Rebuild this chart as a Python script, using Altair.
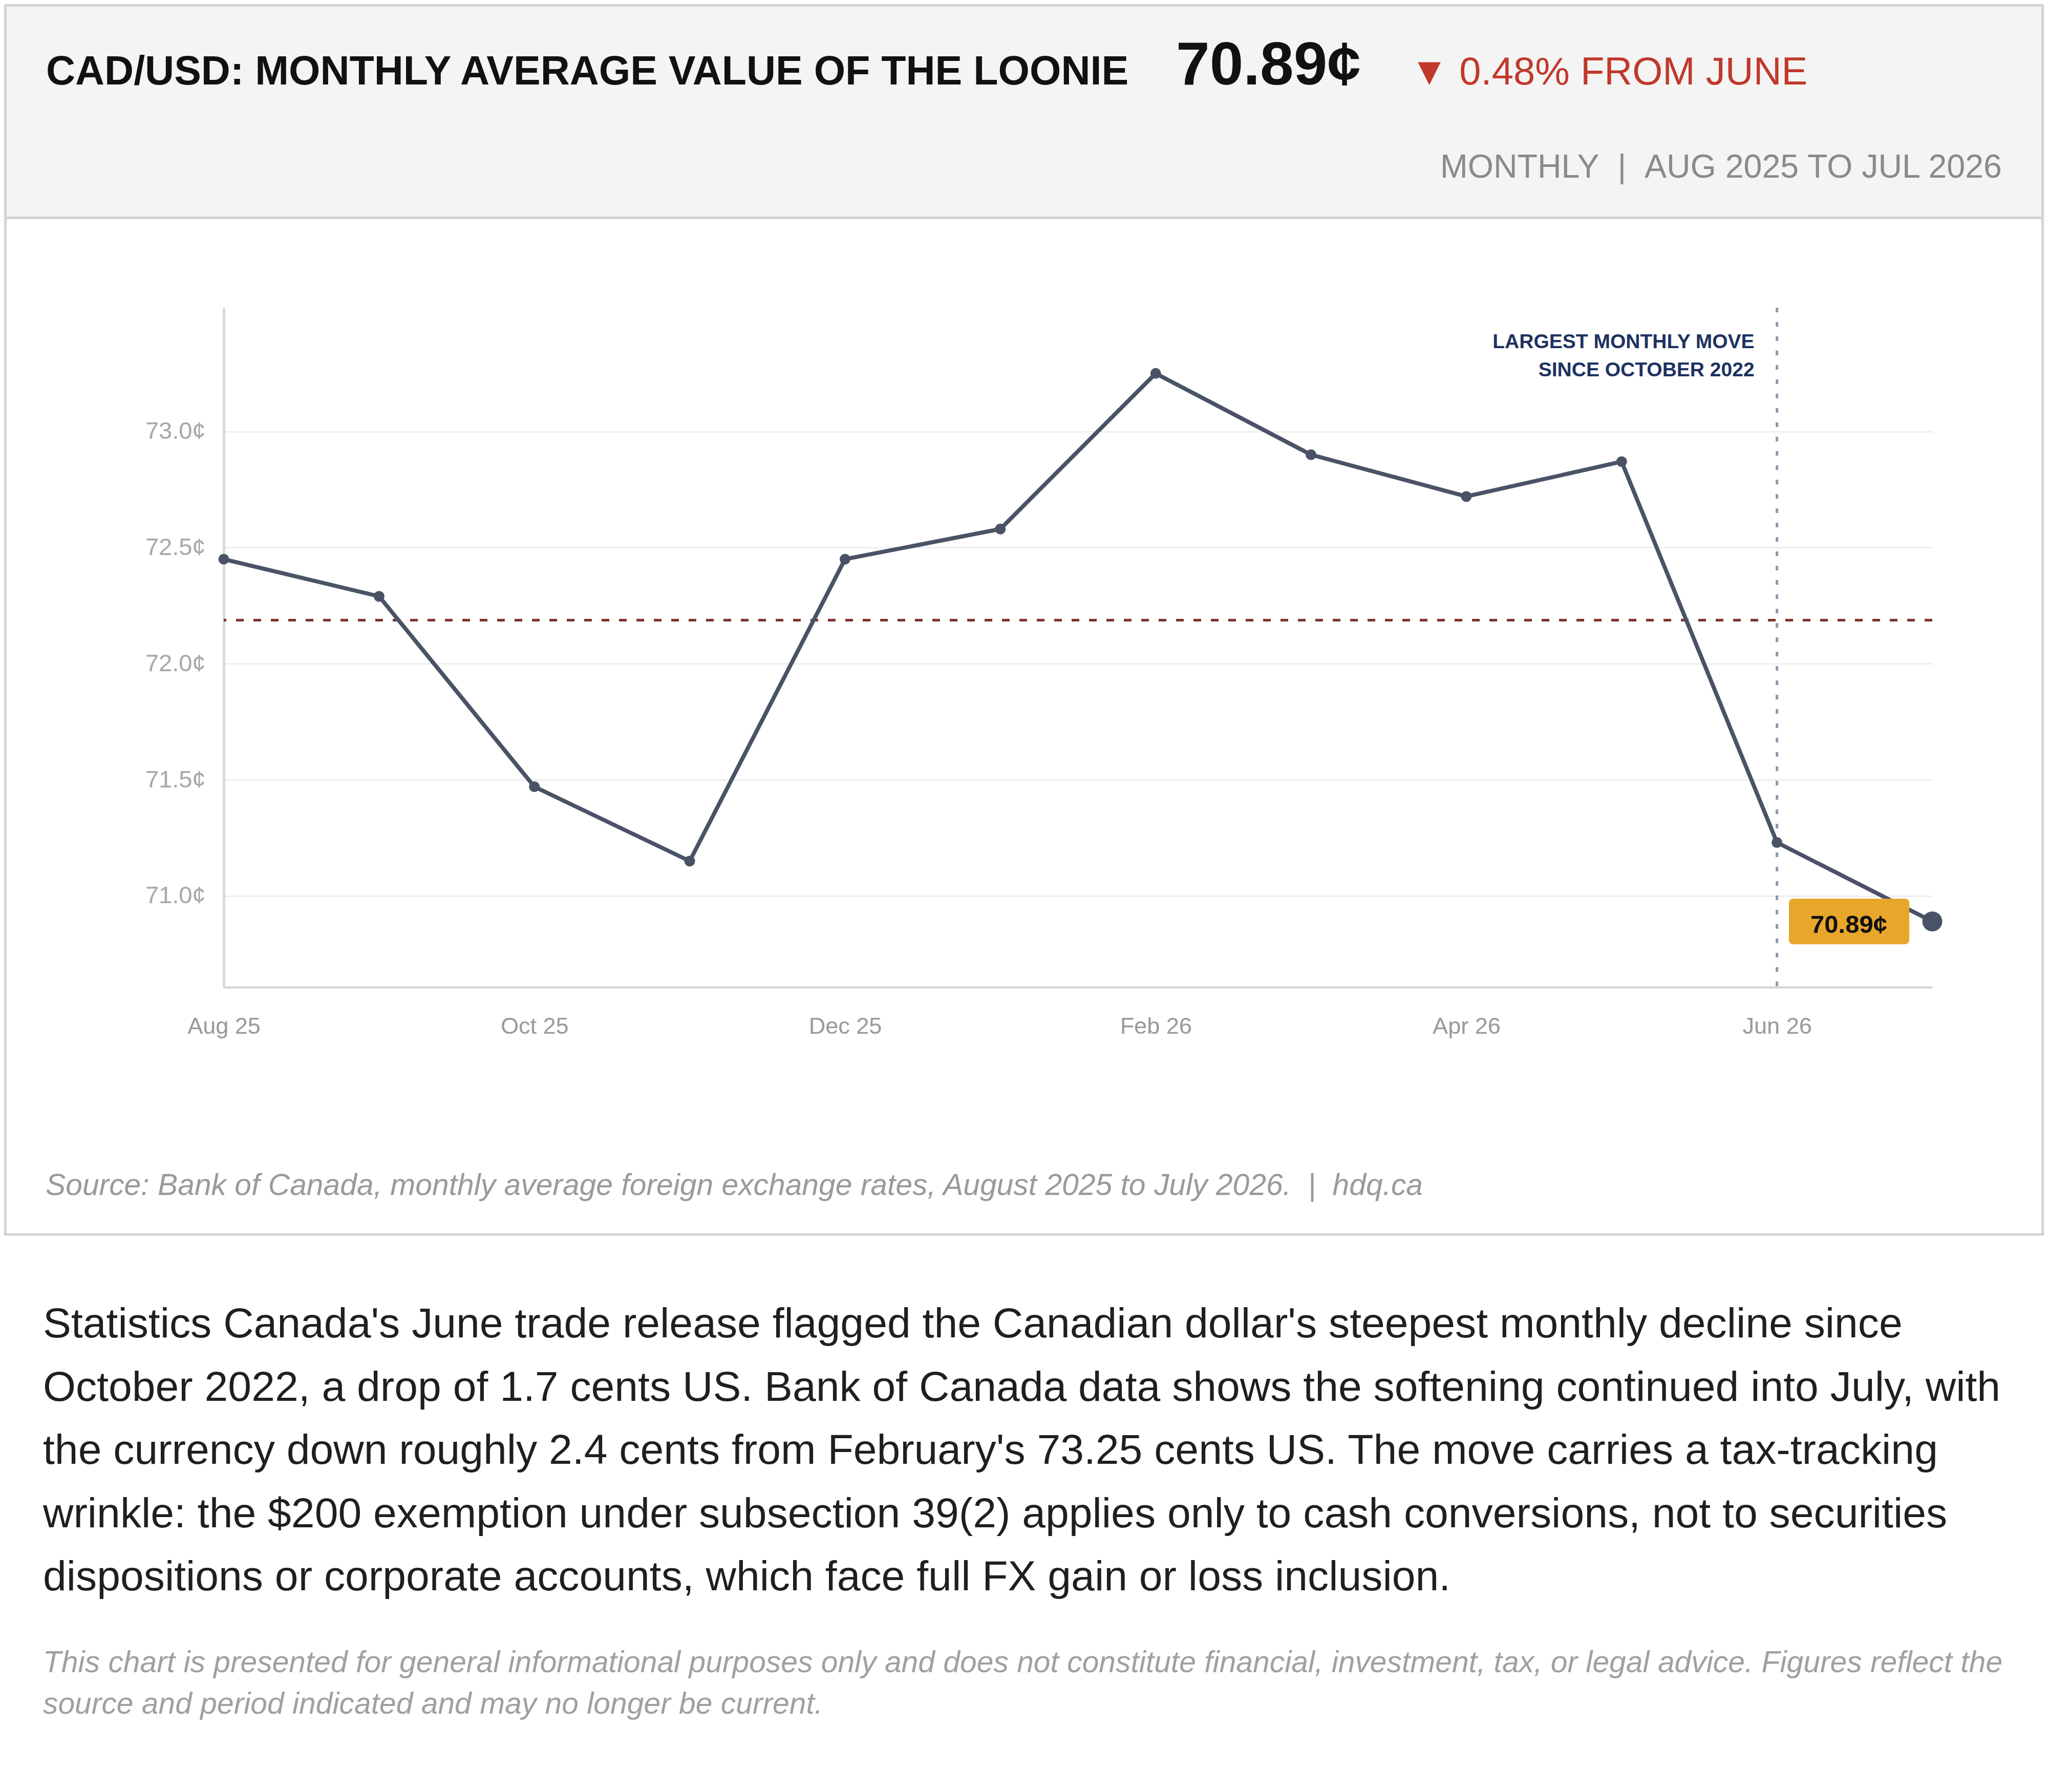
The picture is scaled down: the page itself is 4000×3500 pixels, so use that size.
import json
import altair as alt
import pandas as pd

# ---------------- data ----------------
MONTHS = ["Aug 25", "Sep 25", "Oct 25", "Nov 25", "Dec 25", "Jan 26",
          "Feb 26", "Mar 26", "Apr 26", "May 26", "Jun 26", "Jul 26"]
VALUES = [72.45, 72.29, 71.47, 71.15, 72.45, 72.58,
          73.25, 72.90, 72.72, 72.87, 71.23, 70.89]
Y_TICKS = [71.0, 71.5, 72.0, 72.5, 73.0]
X_TICK_LABELS = ["Aug 25", "Oct 25", "Dec 25", "Feb 26", "Apr 26", "Jun 26"]
HIGHLIGHT_MONTH = "Jun 26"
LATEST_LABEL = "70.89¢"

TITLE = "CAD/USD: MONTHLY AVERAGE VALUE OF THE LOONIE"
HEADLINE_VALUE = "70.89¢"
CHANGE_TEXT = "▼ 0.48% FROM JUNE"
SUBTITLE = "MONTHLY\u00a0\u00a0|\u00a0\u00a0AUG 2025 TO JUL 2026"
ANNOTATION_LINES = ["LARGEST MONTHLY MOVE", "SINCE OCTOBER 2022"]
SOURCE = ("Source: Bank of Canada, monthly average foreign exchange rates, "
          "August 2025 to July 2026.\u00a0\u00a0|\u00a0\u00a0hdq.ca")
PARAGRAPH_LINES = [
    "Statistics Canada's June trade release flagged the Canadian dollar's steepest monthly decline since",
    "October 2022, a drop of 1.7 cents US. Bank of Canada data shows the softening continued into July, with",
    "the currency down roughly 2.4 cents from February's 73.25 cents US. The move carries a tax-tracking",
    "wrinkle: the $200 exemption under subsection 39(2) applies only to cash conversions, not to securities",
    "dispositions or corporate accounts, which face full FX gain or loss inclusion.",
]
DISCLAIMER_LINES = [
    "This chart is presented for general informational purposes only and does not constitute financial, investment, tax, or legal advice. Figures reflect the",
    "source and period indicated and may no longer be current.",
]

# ---------------- styling ----------------
FONT = "Liberation Sans"
LINE_COLOR = "#4a5366"
MEAN_COLOR = "#7a2e2e"
VLINE_COLOR = "#8c97ab"
NAVY = "#1d3260"
BOX_COLOR = "#e8a62a"
BORDER = "#d3d3d3"
W, H = 3337, 1327

df = pd.DataFrame({"idx": list(range(len(MONTHS))), "month": MONTHS, "value": VALUES})
df_last = df.iloc[[-1]].assign(label=LATEST_LABEL)
df_hl = pd.DataFrame({"idx": [MONTHS.index(HIGHLIGHT_MONTH)],
                      "t": ["\n".join(ANNOTATION_LINES)]})

x_tick_idx = [MONTHS.index(m) for m in X_TICK_LABELS]
x_label_expr = json.dumps(MONTHS) + "[datum.value]"

xscale = alt.Scale(domain=[0, len(MONTHS) - 1], nice=False, zero=False)
yscale = alt.Scale(domain=[70.607, 73.533], nice=False, zero=False)
xaxis = alt.Axis(values=x_tick_idx, labelExpr=x_label_expr, grid=False, ticks=False,
                 tickSize=0, domainColor="#d6d6d6", domainWidth=4.5, labelFont=FONT,
                 labelFontSize=45, labelColor="#9a9a9a", labelPadding=90,
                 labelBaseline="alphabetic", labelFlush=False, labelOverlap=False,
                 title=None)
yaxis = alt.Axis(values=Y_TICKS, labelExpr="format(datum.value, '.1f') + '¢'",
                 grid=True, gridColor="#ebebeb", gridWidth=2.5, ticks=False, tickSize=0,
                 domainColor="#d6d6d6", domainWidth=4.5, labelFont=FONT,
                 labelFontSize=47, labelColor="#a8a8a8", labelPadding=36,
                 labelFlush=False, title=None)


def X():
    return alt.X("idx:Q", scale=xscale, axis=xaxis)


def Y(field="value:Q"):
    return alt.Y(field, scale=yscale, axis=yaxis)


def text_layer(txt, x, y, size, color, weight="normal", style="normal",
               align="left", line_height=None):
    props = dict(font=FONT, fontSize=size, color=color, fontWeight=weight,
                 fontStyle=style, align=align, baseline="alphabetic", lineBreak="\n")
    if line_height:
        props["lineHeight"] = line_height
    return alt.Chart(pd.DataFrame({"t": [txt]})).mark_text(**props).encode(
        text="t:N", x=alt.value(x), y=alt.value(y))


one = pd.DataFrame({"k": [0]})
CARD_L, CARD_R, CARD_T, CARD_B, HEAD_B = -426.5, 3552.5, -590.5, 1810, -175.5

header_bg = alt.Chart(one).mark_rect(color="#f4f4f4").encode(
    x=alt.value(CARD_L), x2=alt.value(CARD_R), y=alt.value(CARD_T), y2=alt.value(HEAD_B))
header_rule = alt.Chart(one).mark_rule(color=BORDER, strokeWidth=5).encode(
    x=alt.value(CARD_L), x2=alt.value(CARD_R), y=alt.value(HEAD_B))
card = alt.Chart(one).mark_rect(fillOpacity=0, stroke=BORDER, strokeWidth=5).encode(
    x=alt.value(CARD_L), x2=alt.value(CARD_R), y=alt.value(CARD_T), y2=alt.value(CARD_B))

base = alt.Chart(df)

mean_rule = base.mark_rule(color=MEAN_COLOR, strokeWidth=5, strokeDash=[15, 19]).encode(
    y=Y("mean(value):Q"))
vline = alt.Chart(df_hl).mark_rule(color=VLINE_COLOR, strokeWidth=5,
                                   strokeDash=[9, 19]).encode(x=X())
line = base.mark_line(color=LINE_COLOR, strokeWidth=8).encode(x=X(), y=Y())
points = base.mark_circle(color=LINE_COLOR, size=441, opacity=1).encode(x=X(), y=Y())
last_pt = alt.Chart(df_last).mark_circle(color=LINE_COLOR, size=1521, opacity=1).encode(
    x=X(), y=Y())
box = alt.Chart(df_last).mark_rect(color=BOX_COLOR, cornerRadius=8, xOffset=-280,
                                   x2Offset=-45, yOffset=-44.5, y2Offset=44.5).encode(
    x=X(), x2=alt.X2("idx:Q"), y=Y(), y2=alt.Y2("value:Q"))
box_text = alt.Chart(df_last).mark_text(font=FONT, fontSize=49, fontWeight="bold",
                                        color="#111111", align="center",
                                        baseline="alphabetic", dx=-163, dy=22.5).encode(
    x=X(), y=Y(), text="label:N")
annot = alt.Chart(df_hl).mark_text(font=FONT, fontSize=39, fontWeight="bold", color=NAVY,
                                   align="right", baseline="alphabetic", lineBreak="\n",
                                   lineHeight=55, dx=-44).encode(
    x=X(), y=alt.value(79), text="t:N")

title = text_layer(TITLE, -347, -436, 79, "#111111", weight="bold")
big = text_layer(HEADLINE_VALUE, 1860, -436, 118, "#111111", weight="bold")
change = text_layer(CHANGE_TEXT, 2317, -436, 76, "#c0392b")
subtitle = text_layer(SUBTITLE, 3473, -254, 64.5, "#8a8a8a", align="right")
source = text_layer(SOURCE, -348, 1733, 58.8, "#9a9a9a", style="italic")
para = text_layer("\n".join(PARAGRAPH_LINES), -353, 2011, 82.3, "#1f1f1f",
                  line_height=123.5)
disc = text_layer("\n".join(DISCLAIMER_LINES), -353, 2665, 58.8, "#a0a0a0",
                  style="italic", line_height=81)

chart = alt.layer(
    header_bg, header_rule, card,
    mean_rule, vline, line, points, last_pt, box, box_text, annot,
    title, big, change, subtitle, source, para, disc,
).properties(
    width=W, height=H,
    autosize=alt.AutoSizeParams(type="none"),
    padding={"left": 429, "top": 593, "right": 218, "bottom": 1560},
    background="white",
).configure_view(strokeWidth=0)

chart.save("out.html", embed_options={"renderer": "svg", "actions": False})
